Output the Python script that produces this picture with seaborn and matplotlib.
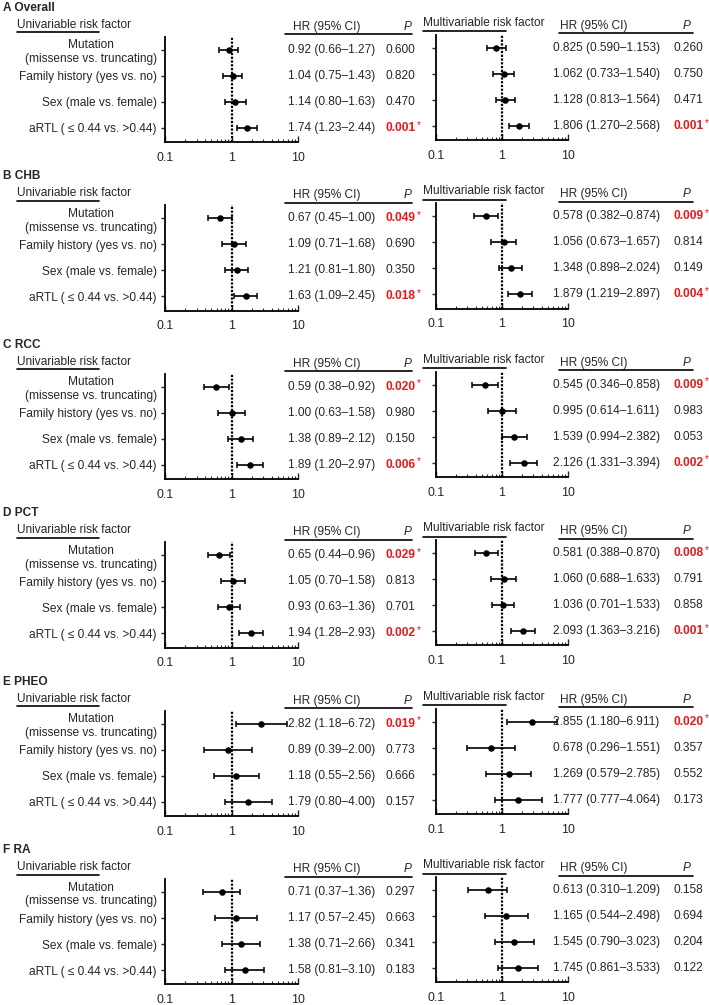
import numpy as np
import pandas as pd
import matplotlib
matplotlib.use("Agg")
import matplotlib.pyplot as plt
import matplotlib.transforms as mtransforms
from matplotlib.lines import Line2D
from matplotlib.ticker import LogLocator, NullFormatter
import seaborn as sns

factors = ["Mutation\n(missense vs. truncating)", "Family history (yes vs. no)",
           "Sex (male vs. female)", "aRTL ( \u2264 0.44 vs. >0.44)"]
panel_names = ["A Overall", "B CHB", "C RCC", "D PCT", "E PHEO", "F RA"]

# univariable HR (95% CI), P -- one row per panel
uni_hr = [[0.92, 1.04, 1.14, 1.74], [0.67, 1.09, 1.21, 1.63], [0.59, 1.00, 1.38, 1.89],
          [0.65, 1.05, 0.93, 1.94], [2.82, 0.89, 1.18, 1.79], [0.71, 1.17, 1.38, 1.58]]
uni_lo = [[0.66, 0.75, 0.80, 1.23], [0.45, 0.71, 0.81, 1.09], [0.38, 0.63, 0.89, 1.20],
          [0.44, 0.70, 0.63, 1.28], [1.18, 0.39, 0.55, 0.80], [0.37, 0.57, 0.71, 0.81]]
uni_hi = [[1.27, 1.43, 1.63, 2.44], [1.00, 1.68, 1.80, 2.45], [0.92, 1.58, 2.12, 2.97],
          [0.96, 1.58, 1.36, 2.93], [6.72, 2.00, 2.56, 4.00], [1.36, 2.45, 2.66, 3.10]]
uni_p = [["0.600", "0.820", "0.470", "0.001"], ["0.049", "0.690", "0.350", "0.018"],
         ["0.020", "0.980", "0.150", "0.006"], ["0.029", "0.813", "0.701", "0.002"],
         ["0.019", "0.773", "0.666", "0.157"], ["0.297", "0.663", "0.341", "0.183"]]

# multivariable HR (95% CI), P
multi_hr = [[0.825, 1.062, 1.128, 1.806], [0.578, 1.056, 1.348, 1.879], [0.545, 0.995, 1.539, 2.126],
            [0.581, 1.060, 1.036, 2.093], [2.855, 0.678, 1.269, 1.777], [0.613, 1.165, 1.545, 1.745]]
multi_lo = [[0.590, 0.733, 0.813, 1.270], [0.382, 0.673, 0.898, 1.219], [0.346, 0.614, 0.994, 1.331],
            [0.388, 0.688, 0.701, 1.363], [1.180, 0.296, 0.579, 0.777], [0.310, 0.544, 0.790, 0.861]]
multi_hi = [[1.153, 1.540, 1.564, 2.568], [0.874, 1.657, 2.024, 2.897], [0.858, 1.611, 2.382, 3.394],
            [0.870, 1.633, 1.533, 3.216], [6.911, 1.551, 2.785, 4.064], [1.209, 2.498, 3.023, 3.533]]
multi_p = [["0.260", "0.750", "0.471", "0.001"], ["0.009", "0.814", "0.149", "0.004"],
           ["0.009", "0.983", "0.053", "0.002"], ["0.008", "0.791", "0.858", "0.001"],
           ["0.020", "0.357", "0.552", "0.173"], ["0.158", "0.694", "0.204", "0.122"]]

sns.set_style("ticks")
plt.rcParams["font.family"] = ["Liberation Sans", "DejaVu Sans"]
FS = 8.6
RED = "#e3191c"

W, H = 709, 1005
fig = plt.figure(figsize=(W / 100, H / 100), dpi=100)


def rect(l, t, r, b):
    return [l / W, 1 - b / H, (r - l) / W, (b - t) / H]


def ftext(x, y, s, **kw):
    kw.setdefault("fontsize", FS)
    fig.text(x / W, 1 - y / H, s, va="center", ha="left", **kw)


def uline(x0, x1, y):
    fig.add_artist(Line2D([x0 / W, x1 / W], [1 - y / H] * 2, color="black", lw=1.2,
                          transform=fig.transFigure))


def forest(ax, hr, lo, hi, pv, nd, labels, hr_x, p_x):
    df = pd.DataFrame({"row": np.arange(4), "hr": hr, "lo": lo, "hi": hi, "p": pv})
    ax.axvline(1, color="black", ls=(0, (1, 0.7)), lw=1.6, zorder=1)
    ax.errorbar(df["hr"], df["row"], xerr=[df["hr"] - df["lo"], df["hi"] - df["hr"]],
                fmt="none", ecolor="black", elinewidth=1.2, capsize=2.3, capthick=1.1, zorder=2)
    sns.scatterplot(data=df, x="hr", y="row", ax=ax, color="black", s=22, linewidth=0, zorder=3)
    ax.set_xscale("log")
    ax.set_xlim(0.1, 10)
    ax.set_ylim(3.55, -0.5)
    ax.set_xticks([0.1, 1, 10])
    ax.set_xticklabels(["0.1", "1", "10"])
    ax.xaxis.set_minor_locator(LogLocator(base=10, subs=np.arange(2, 10)))
    ax.xaxis.set_minor_formatter(NullFormatter())
    ax.set_yticks(df["row"])
    ax.set_yticklabels(factors if labels else [])
    for t in ax.get_yticklabels():
        t.set_multialignment("center")
    ax.set_xlabel("")
    ax.set_ylabel("")
    ax.tick_params(axis="x", which="major", direction="in", length=4, width=1, labelsize=FS + 0.3, pad=7)
    ax.tick_params(axis="x", which="minor", direction="in", length=2, width=0.8)
    ax.tick_params(axis="y", direction="out", length=3, width=1, labelsize=FS, pad=3)
    sns.despine(ax=ax)
    for s in ["left", "bottom"]:
        ax.spines[s].set_linewidth(1.3)
        ax.spines[s].set_color("black")
    trans = mtransforms.blended_transform_factory(ax.transAxes, ax.transData)
    for r in df.itertuples():
        ci = f"{r.hr:.{nd}f} ({r.lo:.{nd}f}\u2013{r.hi:.{nd}f})"
        ax.text(hr_x, r.row, ci, transform=trans, va="center", ha="left", fontsize=FS, clip_on=False)
        if float(r.p) < 0.05:
            t = ax.text(p_x, r.row, r.p, transform=trans, va="center", ha="left", fontsize=FS,
                        color=RED, fontweight="bold", clip_on=False)
            ax.annotate("*", xy=(1, 1.2), xycoords=t, xytext=(1.5, 0), textcoords="offset points",
                        ha="left", va="top", fontsize=7, color=RED)
        else:
            ax.text(p_x, r.row, r.p, transform=trans, va="center", ha="left", fontsize=FS, clip_on=False)


step = 168.4
for i, name in enumerate(panel_names):
    dy = i * step
    ftext(3, 8 + dy, name, fontweight="bold")

    # univariable block
    ftext(17, 25 + dy, "Univariable risk factor")
    uline(17, 99, 32.5 + dy)
    ftext(293, 27 + dy, "HR (95% CI)")
    ftext(404, 27 + dy, "P", style="italic")
    uline(285, 412, 34.5 + dy)
    axl = fig.add_axes(rect(165, 37 + dy, 298, 142.3 + dy))
    forest(axl, uni_hr[i], uni_lo[i], uni_hi[i], uni_p[i], 2, True,
           (288 - 165) / 133, (385 - 165) / 133)

    # multivariable block
    ftext(423, 23 + dy, "Multivariable risk factor")
    uline(423, 506, 31.5 + dy)
    ftext(560, 26 + dy, "HR (95% CI)")
    ftext(683, 26 + dy, "P", style="italic")
    uline(559, 693, 33.5 + dy)
    axr = fig.add_axes(rect(436, 35 + dy, 568, 140.3 + dy))
    forest(axr, multi_hr[i], multi_lo[i], multi_hi[i], multi_p[i], 3, False,
           (553 - 436) / 132, (673 - 436) / 132)

fig.savefig("out.png", dpi=100)
